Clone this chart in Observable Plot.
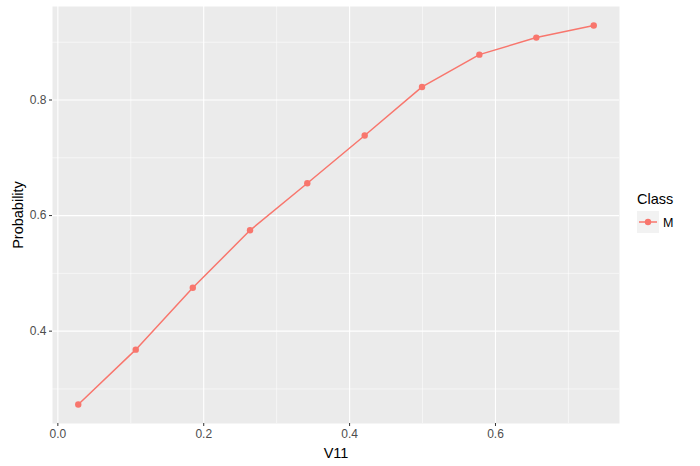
<!DOCTYPE html>
<html>
<head>
<meta charset="utf-8">
<script src="https://cdn.jsdelivr.net/npm/d3@7"></script>
<script src="https://cdn.jsdelivr.net/npm/@observablehq/plot@0.6"></script>
<style>
  body { margin: 0; background: #fff; }
  #wrap { position: relative; width: 700px; height: 466px; font-family: "Liberation Sans", Arial, sans-serif; }
  #legend { position: absolute; left: 637px; top: 190px; }
  #legend .title { font-size: 14.5px; color: #000; line-height: 18px; }
</style>
</head>
<body>
<div id="wrap"></div>
<script>
const v11 = [0.028, 0.1068, 0.185, 0.2635, 0.342, 0.4207, 0.4993, 0.5779, 0.656, 0.7347];
const probability = [0.273, 0.368, 0.475, 0.5745, 0.656, 0.7386, 0.8226, 0.8785, 0.908, 0.929];
const classes = ["M", "M", "M", "M", "M", "M", "M", "M", "M", "M"];
const xTicks = [0, 0.2, 0.4, 0.6];
const xMinor = [0.1, 0.3, 0.5, 0.7];
const yTicks = [0.4, 0.6, 0.8];
const yMinor = [0.3, 0.5, 0.7, 0.9];
const lineColor = "#F8766D";

const data = v11.map((x, i) => ({V11: x, Probability: probability[i], Class: classes[i]}));

function expand(arr) {
  const [a, b] = d3.extent(arr);
  const p = (b - a) * 0.05;
  return [a - p, b + p];
}

const chart = Plot.plot({
  width: 700,
  height: 466,
  marginLeft: 52,
  marginRight: 81,
  marginTop: 6,
  marginBottom: 43,
  style: {fontFamily: "'Liberation Sans', Arial, sans-serif", fontSize: "12px", background: "white"},
  x: {domain: expand(v11), label: null},
  y: {domain: expand(probability), label: null},
  marks: [
    Plot.frame({fill: "#EBEBEB", stroke: null}),
    Plot.gridX(xMinor, {stroke: "white", strokeOpacity: 1, strokeWidth: 0.55}),
    Plot.gridY(yMinor, {stroke: "white", strokeOpacity: 1, strokeWidth: 0.55}),
    Plot.gridX(xTicks, {stroke: "white", strokeOpacity: 1, strokeWidth: 1.1}),
    Plot.gridY(yTicks, {stroke: "white", strokeOpacity: 1, strokeWidth: 1.1}),
    Plot.axisX(xTicks, {tickSize: 3, tickPadding: 3, tickFormat: d3.format(".1f"), stroke: "#333333", color: "#4D4D4D", fill: "#4D4D4D", label: "V11", labelAnchor: "center", labelArrow: "none", labelOffset: 34, fontSize: 12}),
    Plot.axisY(yTicks, {tickSize: 3, tickPadding: 3, tickFormat: d3.format(".1f"), stroke: "#333333", color: "#4D4D4D", fill: "#4D4D4D", label: "Probability", labelAnchor: "center", labelArrow: "none", labelOffset: 40, fontSize: 12}),
    Plot.line(data, {x: "V11", y: "Probability", stroke: lineColor, strokeWidth: 1.5}),
    Plot.dot(data, {x: "V11", y: "Probability", fill: lineColor, r: 3.2, stroke: null})
  ]
});

// Axis title styling
d3.select(chart).selectAll("[aria-label='x-axis label'] text, [aria-label='y-axis label'] text")
  .attr("fill", "#000").style("font-size", "14.5px");

document.getElementById("wrap").appendChild(chart);

// Legend
const legend = d3.select("#wrap").append("div").attr("id", "legend");
legend.append("div").attr("class", "title").text("Class");
const items = Array.from(new Set(classes));
const svg = legend.append("svg").attr("width", 63).attr("height", 26 * items.length);
items.forEach((c, i) => {
  const g = svg.append("g").attr("transform", `translate(0,${3 + i * 22})`);
  g.append("rect").attr("width", 22).attr("height", 22).attr("fill", "#F2F2F2");
  g.append("line").attr("x1", 2).attr("x2", 20).attr("y1", 11).attr("y2", 11).attr("stroke", lineColor).attr("stroke-width", 1.5);
  g.append("circle").attr("cx", 11).attr("cy", 11).attr("r", 3.2).attr("fill", lineColor);
  g.append("text").attr("x", 26).attr("y", 15.5).attr("font-size", "12.5px").attr("font-family", "'Liberation Sans', Arial, sans-serif").attr("fill", "#000").text(c);
});
</script>
</body>
</html>
